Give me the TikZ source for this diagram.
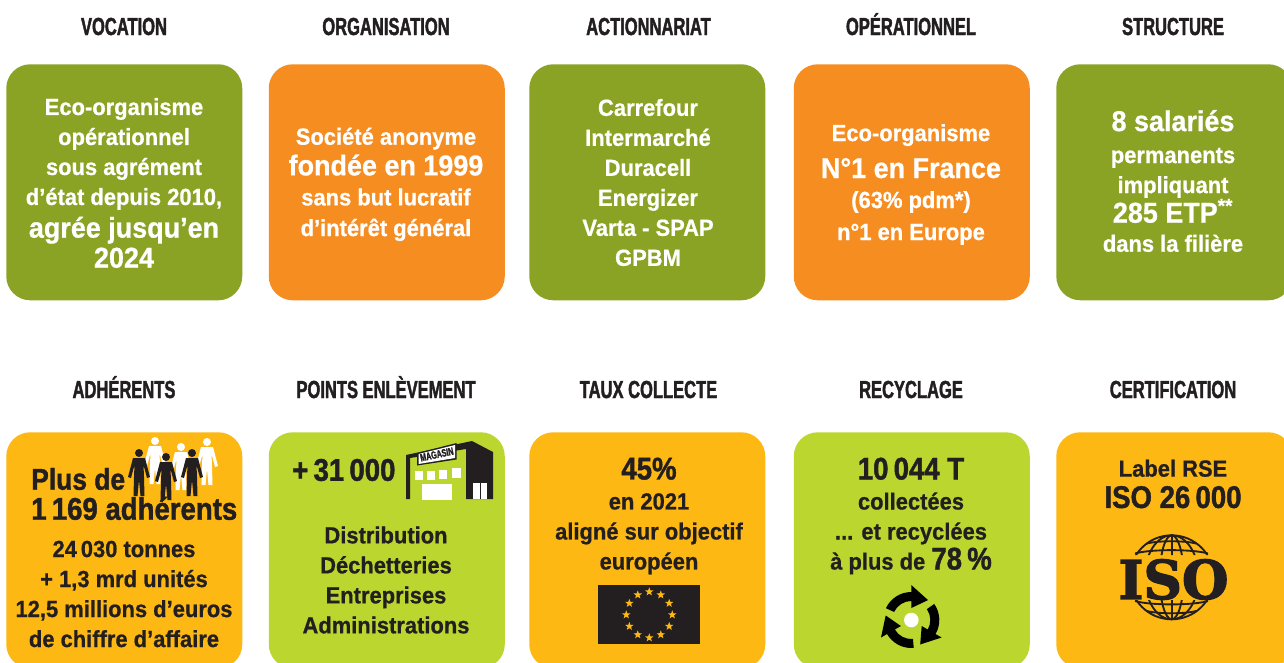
\documentclass[tikz,border=0pt]{standalone}
\usepackage{fontspec}
\usetikzlibrary{shapes.geometric,calc}
\newfontfamily\fmain[FakeStretch=0.94,FakeBold=0.7]{Liberation Sans Bold}
\newfontfamily\fcond[FakeStretch=0.88,FakeBold=1.3]{Liberation Sans Bold}
\newfontfamily\ftitle[FakeStretch=0.67,FakeBold=1.6]{Liberation Sans Bold}
\newfontfamily\fiso[BoldFeatures={FakeBold=2.5}]{DejaVu Serif}
\definecolor{olive}{HTML}{8AA325}
\definecolor{orangec}{HTML}{F68D21}
\definecolor{amber}{HTML}{FDB813}
\definecolor{lime}{HTML}{BBD62F}
\definecolor{ink}{HTML}{231F20}
\newcommand{\nm}{\fontsize{17.5}{22.5}\fmain\selectfont}
\newcommand{\bg}{\fontsize{21.5}{22.5}\fmain\selectfont}
\newcommand{\hg}{\fontsize{23.5}{22.5}\fcond\selectfont}
\setlength{\lineskiplimit}{-30pt}
\tikzset{
  x=0.75pt,y=-0.75pt,
  card/.style={rounded corners=18pt,minimum width=177pt,minimum height=177pt,inner sep=0pt,anchor=north west,fill=#1},
  heading/.style={font=\fontsize{18.5}{22}\ftitle\selectfont,text=ink,inner sep=0pt,anchor=base},
  wtxt/.style={font=\nm,text=white,align=center,inner sep=0pt,anchor=center},
  dtxt/.style={font=\nm,text=ink,align=center,inner sep=0pt,anchor=center},
  eustar/.style={star,star points=5,star point ratio=2.4,minimum size=6.6pt,inner sep=0pt,fill=amber},
  globe/.style={draw=ink,line width=1.4pt},
  person/.pic={
    \fill[fill=#1] (0,0) circle[radius=4];
    \fill[fill=#1] (-6,5)--(6,5)--(11,24)--(8,25)--(4.5,12)--(5,24)--(5.5,43)--(1.5,43)--(0,27)--(-1.5,43)--(-5.5,43)--(-5,24)--(-4.5,12)--(-8,25)--(-11,24)--cycle;
  }
}
\begin{document}
\begin{tikzpicture}
\clip (0,0) rectangle (1284,662);
\fill[white] (0,0) rectangle (1284,662);
% cards
\node[card=olive]   (c1) at (6,64) {};
\node[card=orangec] (c2) at (268.5,64) {};
\node[card=olive]   (c3) at (529,64) {};
\node[card=orangec] (c4) at (793.5,64) {};
\node[card=olive]   (c5) at (1056,64) {};
\node[card=amber]   (d1) at (6,432) {};
\node[card=lime]    (d2) at (268.5,432) {};
\node[card=amber]   (d3) at (529,432) {};
\node[card=lime]    (d4) at (793.5,432) {};
\node[card=amber]   (d5) at (1056,432) {};
% headings
\foreach \n/\x/\y/\t in {h1/124/35/VOCATION,h2/386/35/ORGANISATION,h3/648.5/35/ACTIONNARIAT,h4/911/35/OPÉRATIONNEL,h5/1173/35/STRUCTURE,
  k1/124/398/ADHÉRENTS,k2/386/398/POINTS ENLÈVEMENT,k3/648.5/398/TAUX COLLECTE,k4/911/398/RECYCLAGE,k5/1173/398/CERTIFICATION}
  {\node[heading] (\n) at (\x,\y) {\t};}
% row 1 text
\node[wtxt] (t1) at (124,183) {Eco-organisme\\opérationnel\\sous agrément\\d’état depuis 2010,\\[2pt]{\bg agrée jusqu’en}\\{\bg 2024}};
\node[wtxt] (t2) at (386,184.3) {Société anonyme\\[0.5pt]{\bg fondée en 1999}\\sans but lucratif\\[0.5pt]d’intérêt général};
\node[wtxt] (t3) at (648,182.5) {Carrefour\\Intermarché\\Duracell\\Energizer\\Varta - SPAP\\GPBM};
\node[wtxt] (t4) at (911,184.5) {Eco-organisme\\[5.2pt]{\bg N°1 en France}\\(63\% pdm*)\\[1.5pt]n°1 en Europe};
\node[wtxt] (t5) at (1173,181) {{\bg 8 salariés}\\[1.5pt]permanents\\impliquant\\[-0.3pt]{\bg 285 ETP\textsuperscript{**}}\\[-0.7pt]dans la filière};
% row 2 : adhérents
\foreach \n/\x/\y in {p1/155/441,p2/181/447,p3/207/442}
  {\pic (\n) at (\x,\y) {person=white};}
\foreach \n/\x/\y in {p4/139/453,p5/166/457,p6/192/453}
  {\pic (\n) at (\x,\y) {person=ink};}
\node[dtxt,align=left,anchor=west] (t6) at (31,494) {{\fontsize{22.5}{22.5}\fcond\selectfont Plus de}\\{\hg 1\,169 adhérents}};
\node[dtxt] (t7) at (124,594) {24\,030 tonnes\\+ 1,3 mrd unités\\12,5 millions d’euros\\de chiffre d’affaire};
% row 2 : points
\node[dtxt,anchor=west,font=\hg] (t8) at (292,470) {+\,31\,000};
\node[dtxt] (t9) at (386,580) {Distribution\\Déchetteries\\Entreprises\\Administrations};
\fill[ink] (406,455)--(472,441)--(493,452)--(493,499)--(466,499)--(466,449)--(410,458)--(410,499)--(406,499)--cycle;
\fill[ink] (417,453)--(456.5,443)--(456.5,459.5)--(417,465.5)--cycle;
\fill[white] (418.5,454)--(455,445)--(455,458)--(418.5,464)--cycle;
\node[font=\fontsize{8}{8}\ftitle\selectfont,text=ink,inner sep=0pt,rotate=12] (mag) at (436.8,454.4) {MAGASIN};
\fill[white] (415.3,471) rectangle (423,480);
\fill[white] (427,470.7) rectangle (434.7,479.5);
\fill[white] (438.7,469.7) rectangle (447,479);
\fill[white] (452,468.3) rectangle (461.3,478.3);
\fill[white] (422,484) rectangle (452,500);
\fill[white] (473,483) rectangle (487,499);
\fill[ink] (479.5,483) rectangle (480.5,499);
% row 2 : taux
\node[dtxt] (t10) at (649,516) {{\hg 45\%}\\en 2021\\aligné sur objectif\\européen};
\node[fill=ink,minimum width=76.5pt,minimum height=44.25pt,inner sep=0pt,anchor=north west] (flag) at (598,585) {};
\foreach \i in {1,...,12}
  {\node[eustar] (s\i) at ($(flag.center)+({30*\i}:23)$) {};}
% row 2 : recyclage
\node[dtxt] (t11) at (911,516) {{\hg 10\,044 T}\\collectées\\... et recyclées\\à plus de {\hg 78\,\%}};
\foreach \r in {0,-120,-240}
  {\begin{scope}[shift={(911.3,620)},y=0.75pt,rotate=\r]
    \fill[black] (155:28) arc[start angle=155,end angle=90,radius=28] -- (90:35) -- (50:26) -- (90:12) -- (90:19) arc[start angle=90,end angle=155,radius=19] -- cycle;
  \end{scope}}
\fill[white] (911.3,620) circle[radius=7.3];
% row 2 : certification
\node[dtxt] (t12) at (1173,484) {Label RSE\\[1pt]{\hg ISO 26\,000}};
\begin{scope}
  \clip (1120,530) rectangle (1230,555) (1120,600) rectangle (1230,625);
  \draw[globe] (1171.7,577.3) circle[radius=42];
  \draw[globe] (1171.7,577.3) ellipse[x radius=27,y radius=42];
  \draw[globe] (1171.7,577.3) ellipse[x radius=12,y radius=42];
  \draw[globe] (1171.7,535) -- (1171.7,620);
  \draw[globe] (1147,543.5) .. controls (1158,540.5) and (1185,540.5) .. (1196,543.5);
  \draw[globe] (1135,553.5) .. controls (1150,549) and (1193,549) .. (1208,553.5);
  \draw[globe] (1147,611) .. controls (1158,614) and (1185,614) .. (1196,611);
  \draw[globe] (1135,601) .. controls (1150,605.5) and (1193,605.5) .. (1208,601);
\end{scope}
\node[font=\fontsize{40}{40}\fiso\bfseries\selectfont,text=ink,inner sep=0pt] (iso) at (1173.5,579.5) {ISO};
\end{tikzpicture}
\end{document}
